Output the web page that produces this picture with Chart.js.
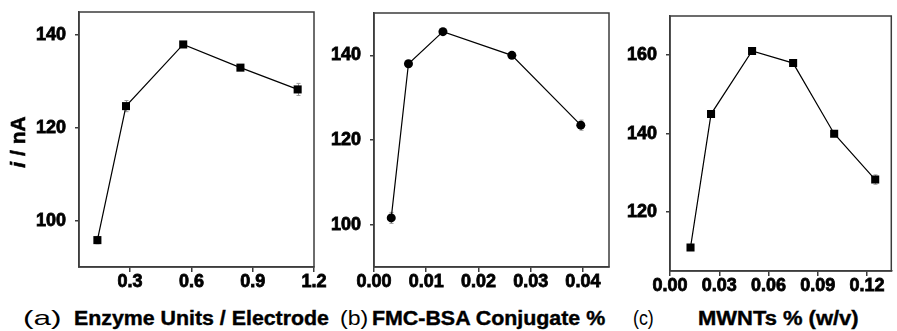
<!DOCTYPE html>
<html>
<head>
<meta charset="utf-8">
<script src="https://cdn.jsdelivr.net/npm/chart.js@4"></script>
<style>
  body { margin: 0; background: #fff; width: 897px; height: 331px; position: relative; overflow: hidden;
         font-family: "Liberation Sans", Arial, sans-serif; }
  canvas { position: absolute; top: 0; }
  .lbl { position: absolute; top: 308px; white-space: nowrap; line-height: 20px; font-size: 20px; color: #000;
         transform-origin: left center; }
  .tag { font-weight: normal; font-size: 21px; }
  .name { font-weight: bold; -webkit-text-stroke: 0.4px #000; }
</style>
</head>
<body>
<canvas id="chartA" width="330" height="300" style="left:0px"></canvas>
<canvas id="chartB" width="290" height="300" style="left:330px"></canvas>
<canvas id="chartC" width="277" height="300" style="left:620px"></canvas>

<span class="lbl tag" style="left:23px; transform: scaleX(1.5)">(a)</span>
<span class="lbl name" style="left:74px; transform: scaleX(1.067)">Enzyme Units / Electrode</span>
<span class="lbl tag" style="left:340px; transform: scaleX(1.1)">(b)</span>
<span class="lbl name" style="left:372px; transform: scaleX(1.069)">FMC-BSA Conjugate %</span>
<span class="lbl tag" style="left:633px; transform: scaleX(0.85)">(c)</span>
<span class="lbl name" style="left:698px; transform: scaleX(1.098)">MWNTs % (w/v)</span>

<script>
// (a) enzyme loading
var enzymeUnits = [0.14, 0.28, 0.56, 0.84, 1.12];
var enzymeCurrent = [95.8, 124.7, 138.0, 133.0, 128.3];
var enzymeError = [0.8, 1.2, 0.6, 0.6, 1.3];
var enzymeTicksX = [0.3, 0.6, 0.9, 1.2];
var currentTicksA = [100, 120, 140];

// (b) FMC-BSA conjugate
var conjugatePercent = [0.0033, 0.0066, 0.0132, 0.0264, 0.0396];
var conjugateCurrent = [101.6, 138.0, 145.6, 140.0, 123.5];
var conjugateError = [1.3, 0.6, 0.5, 0.5, 1.2];
var conjugateTicksX = [0.00, 0.01, 0.02, 0.03, 0.04];
var currentTicksB = [100, 120, 140];

// (c) MWNTs
var mwntPercent = [0.0125, 0.025, 0.05, 0.075, 0.1, 0.125];
var mwntCurrent = [111.0, 145.0, 161.1, 158.0, 140.0, 128.3];
var mwntError = [0.5, 0.5, 0.6, 0.5, 0.5, 1.2];
var mwntTicksX = [0.00, 0.03, 0.06, 0.09, 0.12];
var currentTicksC = [120, 140, 160];

var axisColor = '#3c3c3c';
var fontFamily = '"Liberation Sans", Arial, sans-serif';
var tickFont = { family: fontFamily, size: 18, weight: 'bold' };

Chart.defaults.font.family = fontFamily;
Chart.defaults.color = '#000';

// box round the plot area
var framePlugin = {
  id: 'frame',
  afterDraw: function(chart) {
    var a = chart.chartArea, ctx = chart.ctx;
    ctx.save();
    ctx.strokeStyle = axisColor;
    ctx.lineWidth = 1.5;
    ctx.strokeRect(a.left, a.top, a.right - a.left, a.bottom - a.top);
    ctx.restore();
  }
};

// small grey error bars under the markers
var errorBarPlugin = {
  id: 'errorBars',
  beforeDatasetsDraw: function(chart) {
    var ctx = chart.ctx, ds = chart.data.datasets[0];
    var xs = chart.scales.x, ys = chart.scales.y;
    ctx.save();
    ctx.strokeStyle = '#9a9a9a';
    ctx.lineWidth = 1;
    ds.data.forEach(function(p, i) {
      var e = ds.errors[i];
      var px = Math.round(xs.getPixelForValue(p.x)) + 0.5;
      var top = ys.getPixelForValue(p.y + e), bot = ys.getPixelForValue(p.y - e);
      ctx.beginPath();
      ctx.moveTo(px, top); ctx.lineTo(px, bot);
      ctx.moveTo(px - 2, top); ctx.lineTo(px + 2, top);
      ctx.moveTo(px - 2, bot); ctx.lineTo(px + 2, bot);
      ctx.stroke();
    });
    ctx.restore();
  }
};

// "i / nA" with an italic i
var yTitlePlugin = {
  id: 'yTitle',
  afterDraw: function(chart) {
    var ctx = chart.ctx;
    ctx.save();
    ctx.translate(19, 142);
    ctx.rotate(-Math.PI / 2);
    ctx.fillStyle = '#000';
    ctx.strokeStyle = '#000';
    ctx.lineWidth = 0.6;
    ctx.textBaseline = 'middle';
    ctx.textAlign = 'left';
    ctx.font = 'italic bold 21px ' + fontFamily;
    var w1 = ctx.measureText('i').width;
    ctx.font = 'bold 21px ' + fontFamily;
    var w2 = ctx.measureText(' / nA').width;
    var x0 = -(w1 + w2) / 2;
    ctx.font = 'italic bold 21px ' + fontFamily;
    ctx.fillText('i', x0, 0);
    ctx.strokeText('i', x0, 0);
    ctx.font = 'bold 21px ' + fontFamily;
    ctx.fillText(' / nA', x0 + w1, 0);
    ctx.strokeText(' / nA', x0 + w1, 0);
    ctx.restore();
  }
};

function makePanel(id, xs, ys, errs, o) {
  var canvas = document.getElementById(id);
  var points = xs.map(function(x, i) { return { x: x, y: ys[i] }; });
  var extra = [framePlugin, errorBarPlugin];
  if (o.yTitle) extra.push(yTitlePlugin);
  return new Chart(canvas, {
    type: 'line',
    data: {
      datasets: [{
        data: points,
        errors: errs,
        borderColor: '#000',
        borderWidth: 1.2,
        backgroundColor: '#000',
        pointBackgroundColor: '#000',
        pointBorderColor: '#000',
        pointBorderWidth: 0,
        pointStyle: o.marker,
        pointRadius: o.radius,
        tension: 0
      }]
    },
    options: {
      responsive: false,
      animation: false,
      devicePixelRatio: 1,
      layout: { padding: { top: o.area.top, right: canvas.width - o.area.right, left: 0, bottom: 0 } },
      plugins: { legend: { display: false }, tooltip: { enabled: false } },
      scales: {
        x: {
          type: 'linear',
          min: o.xMin, max: o.xMax,
          afterBuildTicks: function(s) { s.ticks = o.xTicks.map(function(v) { return { value: v }; }); },
          afterFit: function(s) {
            s.height = canvas.height - o.area.bottom;
            s.paddingLeft = 0; s.paddingRight = 0;
          },
          ticks: {
            font: tickFont, color: '#000', padding: -1, autoSkip: false, maxRotation: 0,
            textStrokeColor: '#000', textStrokeWidth: 0.8,
            callback: function(v) { return Number(v).toFixed(o.xDecimals); }
          },
          grid: { drawOnChartArea: false, drawTicks: true, tickLength: 5, color: axisColor, lineWidth: 1.5 },
          border: { color: axisColor, width: 1.5 }
        },
        y: {
          min: o.yMin, max: o.yMax,
          afterBuildTicks: function(s) { s.ticks = o.yTicks.map(function(v) { return { value: v }; }); },
          afterFit: function(s) {
            s.width = o.area.left;
            s.paddingTop = 0; s.paddingBottom = 0;
          },
          ticks: {
            font: tickFont, color: '#000', padding: 9, autoSkip: false,
            textStrokeColor: '#000', textStrokeWidth: 0.8
          },
          grid: { drawOnChartArea: false, drawTicks: true, tickLength: 4, color: axisColor, lineWidth: 1.5 },
          border: { color: axisColor, width: 1.5 }
        }
      }
    },
    plugins: extra
  });
}

makePanel('chartA', enzymeUnits, enzymeCurrent, enzymeError, {
  area: { left: 79, top: 12, right: 314, bottom: 267 },
  xMin: 0.05, xMax: 1.2, xTicks: enzymeTicksX, xDecimals: 1,
  yMin: 90, yMax: 145, yTicks: currentTicksA,
  marker: 'rect', radius: 5.7, yTitle: true
});

makePanel('chartB', conjugatePercent, conjugateCurrent, conjugateError, {
  area: { left: 44, top: 13, right: 279, bottom: 267 },
  xMin: 0, xMax: 0.045, xTicks: conjugateTicksX, xDecimals: 2,
  yMin: 90, yMax: 150, yTicks: currentTicksB,
  marker: 'circle', radius: 4.5
});

makePanel('chartC', mwntPercent, mwntCurrent, mwntError, {
  area: { left: 50, top: 16, right: 276, bottom: 271 },
  xMin: 0, xMax: 0.1348, xTicks: mwntTicksX, xDecimals: 2,
  yMin: 105, yMax: 170, yTicks: currentTicksC,
  marker: 'rect', radius: 5.7
});
</script>
</body>
</html>
